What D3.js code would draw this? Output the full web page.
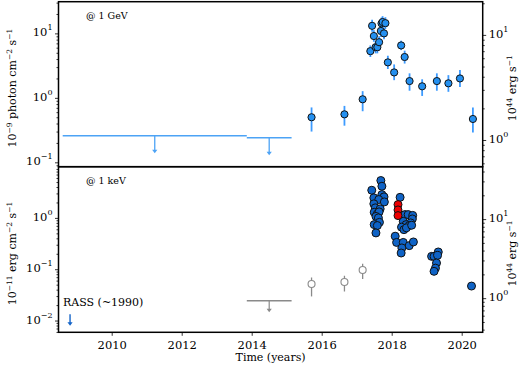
<!DOCTYPE html>
<html>
<head>
<meta charset="utf-8">
<script src="https://cdn.jsdelivr.net/npm/d3@7"></script>
<style>
  body { margin: 0; background: #fff; }
  svg text { font-family: "DejaVu Serif", serif; fill: #000; }
</style>
</head>
<body>
<svg id="chart" width="521" height="370"></svg>
<script>
// ---- Fermi-LAT light curve (@ 1 GeV), 1e-9 photon cm^-2 s^-1 ----
const gevYear = [2015.71, 2016.65, 2017.17, 2017.39, 2017.44, 2017.49, 2017.54, 2017.59, 2017.64, 2017.69, 2017.71, 2017.74, 2017.78, 2017.82, 2017.89, 2018.07, 2018.27, 2018.37, 2018.51, 2018.87, 2019.29, 2019.62, 2019.95, 2020.32];
const gevFlux = [0.50, 0.555, 0.95, 5.3, 13.1, 9.1, 6.1, 6.1, 7.3, 10.9, 14.3, 15.0, 10.0, 14.4, 3.55, 2.48, 6.5, 4.3, 1.82, 1.51, 1.82, 1.68, 2.0, 0.47];
const gevLo   = [0.30, 0.37, 0.62, 4.3, 10.6, 7.4, 4.9, 4.9, 5.9, 8.8, 11.6, 12.2, 8.1, 11.7, 2.8, 1.88, 5.5, 3.4, 1.29, 1.07, 1.29, 1.24, 1.47, 0.29];
const gevHi   = [0.71, 0.75, 1.27, 6.5, 16.2, 11.2, 7.5, 7.5, 9.0, 13.4, 17.6, 18.5, 12.3, 17.8, 4.5, 3.3, 7.7, 5.4, 2.4, 1.94, 2.4, 2.25, 2.7, 0.71];
// upper limits: [start, end, value]
const gevUL = [[2008.60, 2013.86, 0.258], [2013.86, 2015.14, 0.240]];

// ---- X-ray light curve (@ 1 keV), 1e-11 erg cm^-2 s^-1 ----
const kevYear = [2017.69, 2017.72, 2017.43, 2017.72, 2017.78, 2017.49, 2017.63, 2017.79, 2017.49, 2017.53, 2017.67, 2017.50, 2017.59, 2017.64, 2017.55, 2017.62, 2017.65, 2017.50, 2017.59, 2017.55,
                 2018.24,
                 2018.38, 2018.47, 2018.60, 2018.59, 2018.33, 2018.54, 2018.41, 2018.50, 2018.28, 2018.35, 2018.42, 2018.57,
                 2018.10, 2018.14, 2018.33, 2018.50, 2018.62, 2018.29, 2018.27,
                 2019.14, 2019.21, 2019.33, 2019.31, 2019.28, 2019.25, 2019.21,
                 2020.28];
const kevFlux = [5.35, 4.14, 3.46, 2.85, 2.57, 2.46, 2.28, 2.05, 1.88, 1.57, 1.50, 1.29, 1.20, 1.31, 1.07, 1.00, 0.82, 0.74, 0.71, 0.51,
                 2.52,
                 1.16, 1.16, 1.12, 0.955, 0.86, 0.80, 0.74, 0.71, 0.66, 0.59, 0.64, 0.72,
                 0.44, 0.333, 0.333, 0.288, 0.34, 0.26, 0.207,
                 0.178, 0.178, 0.217, 0.186, 0.132, 0.105, 0.091,
                 0.047];
const flareYear = [2018.18, 2018.18, 2018.18];
const flareFlux = [1.82, 1.43, 1.11];
const archYear = [2015.71, 2016.65, 2017.17];
const archFlux = [0.0514, 0.0562, 0.0964];
const archLo   = [0.0295, 0.0368, 0.0645];
const archHi   = [0.069, 0.0746, 0.128];
const kevUL = [[2013.86, 2015.14, 0.0243]];
const rassYear = 2008.81, rassFlux = 0.0133;

const xTicks = [2010, 2012, 2014, 2016, 2018, 2020];

// ---- layout ----
const svg = d3.select("#chart");
const L = 58.5, R = 482.7;
const top1 = 1.7, bot1 = 166.7, top2 = 166.7, bot2 = 332.3;

const x = d3.scaleLinear().domain([2008.48, 2020.6]).range([L, R]);
const yTL = d3.scaleLog().domain([0.0855, 31]).range([bot1, top1]);
const yTR = d3.scaleLog().domain([0.557, 20.7]).range([bot1, top1]);
const yBL = d3.scaleLog().domain([0.0059, 9.95]).range([bot2, top2]);
const yBR = d3.scaleLog().domain([0.37, 46]).range([bot2, top2]);

function minorTicks(scale) {
  const [a, b] = scale.domain();
  const out = [];
  for (let e = Math.floor(Math.log10(a)); e <= Math.ceil(Math.log10(b)); e++) {
    for (let m = 2; m <= 9; m++) {
      const v = m * Math.pow(10, e);
      if (v >= a && v <= b) out.push(v);
    }
  }
  return out;
}
function majorTicks(scale) {
  const [a, b] = scale.domain();
  const out = [];
  for (let e = Math.ceil(Math.log10(a)); e <= Math.floor(Math.log10(b)); e++) out.push(Math.pow(10, e));
  return out;
}

function powLabel(g, v, xPos, yPos, anchor) {
  const e = Math.round(Math.log10(v));
  const t = g.append("text").attr("x", xPos).attr("y", yPos).attr("text-anchor", anchor)
    .attr("dominant-baseline", "middle").style("font-size", "11.5px");
  t.append("tspan").text("10");
  t.append("tspan").attr("dy", -5).style("font-size", "8px").text(e < 0 ? "\u2212" + (-e) : String(e));
}

function yAxisPair(scale, side) {
  const axisFn = side === "left" ? d3.axisLeft : d3.axisRight;
  const xPos = side === "left" ? L : R;
  const gMin = svg.append("g").attr("transform", `translate(${xPos},0)`)
    .call(axisFn(scale).tickValues(minorTicks(scale)).tickSize(2).tickFormat(""));
  const gMaj = svg.append("g").attr("transform", `translate(${xPos},0)`)
    .call(axisFn(scale).tickValues(majorTicks(scale)).tickSize(3.5).tickFormat(""));
  [gMin, gMaj].forEach(g => { g.select(".domain").remove(); g.selectAll("line").attr("stroke", "#000").attr("stroke-width", 0.8); });
  majorTicks(scale).forEach(v => {
    if (side === "left") powLabel(svg, v, xPos - 6, scale(v), "end");
    else powLabel(svg, v, xPos + 6, scale(v), "start");
  });
}

yAxisPair(yTL, "left");
yAxisPair(yTR, "right");
yAxisPair(yBL, "left");
yAxisPair(yBR, "right");

// x axis (bottom panel only carries labels)
const gx = svg.append("g").attr("transform", `translate(0,${bot2})`)
  .call(d3.axisBottom(x).tickValues(xTicks).tickSize(3.5).tickFormat(d3.format("d")));
gx.select(".domain").remove();
gx.selectAll("line").attr("stroke", "#000").attr("stroke-width", 0.8);
gx.selectAll("text").style("font-size", "11.5px").style("font-family", "DejaVu Serif").attr("dy", "0.9em");

// axis titles
function titleWithSup(parts, xPos, yPos, rotate) {
  const t = svg.append("text").attr("text-anchor", "middle").style("font-size", "11px")
    .attr("transform", `translate(${xPos},${yPos}) rotate(${rotate})`);
  let raised = false;
  parts.forEach(([s, sup]) => {
    if (sup) { t.append("tspan").attr("dy", -4).style("font-size", "7.5px").text(s); raised = true; }
    else { t.append("tspan").attr("dy", raised ? 4 : 0).text(s); raised = false; }
  });
  return t;
}
titleWithSup([["10"], ["\u22129", true], [" photon cm"], ["\u22122", true], [" s"], ["\u22121", true]], 16, (top1 + bot1) / 2 + 4, -90);
titleWithSup([["10"], ["\u221211", true], [" erg cm"], ["\u22122", true], [" s"], ["\u22121", true]], 16, (top2 + bot2) / 2 + 4, -90);
titleWithSup([["10"], ["44", true], [" erg s"], ["\u22121", true]], 516, (top1 + bot1) / 2 + 4, -90);
titleWithSup([["10"], ["44", true], [" erg s"], ["\u22121", true]], 516, (top2 + bot2) / 2 + 4, -90);
svg.append("text").attr("x", (L + R) / 2).attr("y", 361).attr("text-anchor", "middle")
  .style("font-size", "11px").text("Time (years)");

// panel annotations
svg.append("text").attr("x", 86).attr("y", 18.5).style("font-size", "9.5px").text("@ 1 GeV");
svg.append("text").attr("x", 86).attr("y", 184).style("font-size", "9.5px").text("@ 1 keV");
svg.append("text").attr("x", 63).attr("y", 306).style("font-size", "11px").text("RASS (~1990)");

// ---- drawing helpers ----
function arrowDown(g, xp, y0, y1, color, w) {
  g.append("line").attr("x1", xp).attr("x2", xp).attr("y1", y0).attr("y2", y1 - 2)
    .attr("stroke", color).attr("stroke-width", w);
  g.append("path").attr("d", `M${xp - 2.6},${y1 - 3.5} L${xp + 2.6},${y1 - 3.5} L${xp},${y1} Z`).attr("fill", color);
}

// ---- top panel ----
const gTop = svg.append("g");
const ulBlue = "#4da3f5";
gevUL.forEach(([a, b, v]) => {
  gTop.append("line").attr("x1", x(a)).attr("x2", x(b)).attr("y1", yTL(v)).attr("y2", yTL(v))
    .attr("stroke", ulBlue).attr("stroke-width", 1.5);
  const tip = yTL(v) + 0.27 * (yTL(0.1) - yTL(1));
  arrowDown(gTop, x((a + b) / 2), yTL(v), tip, ulBlue, 1.3);
});
gTop.selectAll(".ebar").data(gevYear).join("line")
  .attr("x1", (d) => x(d)).attr("x2", (d) => x(d))
  .attr("y1", (d, i) => yTL(gevLo[i])).attr("y2", (d, i) => yTL(gevHi[i]))
  .attr("stroke", "#3d9bff").attr("stroke-width", 1.8);
gTop.selectAll(".pt").data(gevYear).join("circle")
  .attr("cx", (d) => x(d)).attr("cy", (d, i) => yTL(gevFlux[i])).attr("r", 3.6)
  .attr("fill", "#2490f0").attr("stroke", "#111").attr("stroke-width", 1);

// ---- bottom panel ----
const gBot = svg.append("g");
const grey = "#8a8a8a";
kevUL.forEach(([a, b, v]) => {
  gBot.append("line").attr("x1", x(a)).attr("x2", x(b)).attr("y1", yBL(v)).attr("y2", yBL(v))
    .attr("stroke", grey).attr("stroke-width", 1.3);
  arrowDown(gBot, x((a + b) / 2), yBL(v), yBL(v) + 11.5, grey, 1.2);
});
arrowDown(gBot, x(rassYear), yBL(rassFlux), yBL(rassFlux) + 11.5, "#1464c8", 1.4);

gBot.selectAll(".aebar").data(archYear).join("line")
  .attr("x1", (d) => x(d)).attr("x2", (d) => x(d))
  .attr("y1", (d, i) => yBL(archLo[i])).attr("y2", (d, i) => yBL(archHi[i]))
  .attr("stroke", grey).attr("stroke-width", 1.3);
gBot.selectAll(".apt").data(archYear).join("circle")
  .attr("cx", (d) => x(d)).attr("cy", (d, i) => yBL(archFlux[i])).attr("r", 3.5)
  .attr("fill", "#fff").attr("stroke", grey).attr("stroke-width", 1.1);

gBot.selectAll(".kpt").data(kevYear).join("circle")
  .attr("cx", (d) => x(d)).attr("cy", (d, i) => yBL(kevFlux[i])).attr("r", 4)
  .attr("fill", "#0f63c6").attr("stroke", "#111").attr("stroke-width", 1);
gBot.selectAll(".fpt").data(flareYear).join("circle")
  .attr("cx", (d) => x(d)).attr("cy", (d, i) => yBL(flareFlux[i])).attr("r", 4)
  .attr("fill", "#ee0000").attr("stroke", "#111").attr("stroke-width", 1);

// panel frames
[[top1, bot1], [top2, bot2]].forEach(([t, b]) => {
  svg.append("rect").attr("x", L).attr("y", t).attr("width", R - L).attr("height", b - t)
    .attr("fill", "none").attr("stroke", "#000").attr("stroke-width", 1.5);
});
</script>
</body>
</html>
